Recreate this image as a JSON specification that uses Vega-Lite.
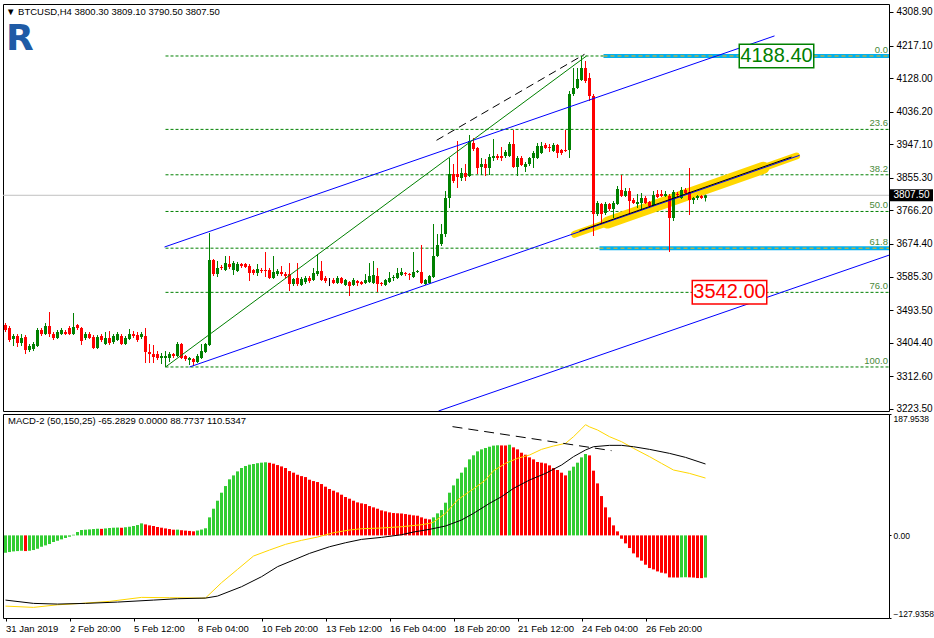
{
"$schema":"https://vega.github.io/schema/vega-lite/v6.json",
"background":"white",
"padding":{"left":2,"top":3,"right":0,"bottom":0},
"spacing":3,
"bounds":"flush",
"config":{"view":{"stroke":"#000000","strokeWidth":1},"font":"Liberation Sans"},
"datasets":{
"c":[
{"t":"2019-01-31T04:00Z","o":3452.7,"h":3458.1,"l":3433.5,"c":3439.0,"m":-26.9},
{"t":"2019-01-31T08:00Z","o":3444.5,"h":3449.9,"l":3406.2,"c":3411.6,"m":-25.8},
{"t":"2019-01-31T12:00Z","o":3414.4,"h":3428.0,"l":3395.2,"c":3422.6,"m":-24.8},
{"t":"2019-01-31T16:00Z","o":3422.6,"h":3428.0,"l":3392.5,"c":3403.4,"m":-24.3},
{"t":"2019-01-31T20:00Z","o":3403.4,"h":3428.0,"l":3395.2,"c":3417.1,"m":-23.8},
{"t":"2019-02-01T00:00Z","o":3419.8,"h":3425.3,"l":3373.3,"c":3384.3,"m":-24.3},
{"t":"2019-02-01T04:00Z","o":3384.3,"h":3400.7,"l":3378.8,"c":3395.2,"m":-23.8},
{"t":"2019-02-01T08:00Z","o":3387.0,"h":3406.2,"l":3381.5,"c":3400.7,"m":-22.7},
{"t":"2019-02-01T12:00Z","o":3395.2,"h":3444.5,"l":3392.5,"c":3439.0,"m":-20.7},
{"t":"2019-02-01T16:00Z","o":3439.0,"h":3444.5,"l":3422.6,"c":3428.0,"m":-17.6},
{"t":"2019-02-01T20:00Z","o":3428.0,"h":3458.1,"l":3425.3,"c":3449.9,"m":-15.5},
{"t":"2019-02-02T00:00Z","o":3449.9,"h":3488.2,"l":3419.8,"c":3428.0,"m":-13.4},
{"t":"2019-02-02T04:00Z","o":3428.0,"h":3433.5,"l":3411.6,"c":3417.1,"m":-10.3},
{"t":"2019-02-02T08:00Z","o":3417.1,"h":3439.0,"l":3414.4,"c":3433.5,"m":-8.3},
{"t":"2019-02-02T12:00Z","o":3428.0,"h":3444.5,"l":3425.3,"c":3439.0,"m":-6.2},
{"t":"2019-02-02T16:00Z","o":3433.5,"h":3439.0,"l":3425.3,"c":3428.0,"m":-4.1},
{"t":"2019-02-02T20:00Z","o":3444.5,"h":3449.9,"l":3425.3,"c":3428.0,"m":-2.1},
{"t":"2019-02-03T00:00Z","o":3428.0,"h":3485.5,"l":3425.3,"c":3447.2,"m":1.0},
{"t":"2019-02-03T04:00Z","o":3452.7,"h":3455.4,"l":3439.0,"c":3444.5,"m":5.2},
{"t":"2019-02-03T08:00Z","o":3444.5,"h":3447.2,"l":3398.0,"c":3408.9,"m":8.3},
{"t":"2019-02-03T12:00Z","o":3417.1,"h":3433.5,"l":3411.6,"c":3428.0,"m":8.8},
{"t":"2019-02-03T16:00Z","o":3428.0,"h":3433.5,"l":3414.4,"c":3417.1,"m":9.3},
{"t":"2019-02-03T20:00Z","o":3419.8,"h":3425.3,"l":3387.0,"c":3389.8,"m":9.8},
{"t":"2019-02-04T00:00Z","o":3389.8,"h":3425.3,"l":3387.0,"c":3419.8,"m":10.3},
{"t":"2019-02-04T04:00Z","o":3422.6,"h":3428.0,"l":3406.2,"c":3411.6,"m":10.1},
{"t":"2019-02-04T08:00Z","o":3400.7,"h":3433.5,"l":3398.0,"c":3417.1,"m":10.8},
{"t":"2019-02-04T12:00Z","o":3417.1,"h":3436.2,"l":3398.0,"c":3403.4,"m":11.4},
{"t":"2019-02-04T16:00Z","o":3406.2,"h":3428.0,"l":3400.7,"c":3422.6,"m":11.9},
{"t":"2019-02-04T20:00Z","o":3411.6,"h":3433.5,"l":3408.9,"c":3428.0,"m":12.1},
{"t":"2019-02-05T00:00Z","o":3422.6,"h":3428.0,"l":3398.0,"c":3400.7,"m":11.8},
{"t":"2019-02-05T04:00Z","o":3400.7,"h":3422.6,"l":3398.0,"c":3417.1,"m":12.6},
{"t":"2019-02-05T08:00Z","o":3414.4,"h":3441.7,"l":3411.6,"c":3428.0,"m":13.4},
{"t":"2019-02-05T12:00Z","o":3428.0,"h":3436.2,"l":3417.1,"c":3422.6,"m":14.5},
{"t":"2019-02-05T16:00Z","o":3425.3,"h":3433.5,"l":3406.2,"c":3411.6,"m":16.0},
{"t":"2019-02-05T20:00Z","o":3419.8,"h":3433.5,"l":3414.4,"c":3428.0,"m":18.6},
{"t":"2019-02-06T00:00Z","o":3422.6,"h":3444.5,"l":3348.7,"c":3378.8,"m":17.0},
{"t":"2019-02-06T04:00Z","o":3378.8,"h":3400.7,"l":3348.7,"c":3373.3,"m":15.5},
{"t":"2019-02-06T08:00Z","o":3373.3,"h":3398.0,"l":3348.7,"c":3365.1,"m":14.5},
{"t":"2019-02-06T12:00Z","o":3373.3,"h":3381.5,"l":3356.9,"c":3362.4,"m":13.0},
{"t":"2019-02-06T16:00Z","o":3362.4,"h":3376.1,"l":3346.0,"c":3367.9,"m":11.9},
{"t":"2019-02-06T20:00Z","o":3362.4,"h":3381.5,"l":3337.9,"c":3367.9,"m":10.8},
{"t":"2019-02-07T00:00Z","o":3362.4,"h":3378.8,"l":3351.5,"c":3373.3,"m":9.8},
{"t":"2019-02-07T04:00Z","o":3373.3,"h":3376.1,"l":3362.4,"c":3367.9,"m":8.8},
{"t":"2019-02-07T08:00Z","o":3367.9,"h":3406.2,"l":3365.1,"c":3400.7,"m":8.9},
{"t":"2019-02-07T12:00Z","o":3400.7,"h":3403.4,"l":3359.7,"c":3362.4,"m":8.0},
{"t":"2019-02-07T16:00Z","o":3367.9,"h":3370.6,"l":3354.2,"c":3359.7,"m":7.4},
{"t":"2019-02-07T20:00Z","o":3356.9,"h":3365.1,"l":3343.3,"c":3362.4,"m":6.9},
{"t":"2019-02-08T00:00Z","o":3359.7,"h":3362.4,"l":3340.5,"c":3351.5,"m":6.3},
{"t":"2019-02-08T04:00Z","o":3351.5,"h":3373.3,"l":3348.7,"c":3367.9,"m":7.5},
{"t":"2019-02-08T08:00Z","o":3362.4,"h":3400.7,"l":3359.7,"c":3381.5,"m":9.0},
{"t":"2019-02-08T12:00Z","o":3378.8,"h":3403.4,"l":3376.1,"c":3400.7,"m":11.0},
{"t":"2019-02-08T16:00Z","o":3398.0,"h":3704.3,"l":3395.2,"c":3630.4,"m":27.9},
{"t":"2019-02-08T20:00Z","o":3630.4,"h":3633.2,"l":3586.7,"c":3592.1,"m":41.3},
{"t":"2019-02-09T00:00Z","o":3592.1,"h":3627.7,"l":3583.9,"c":3608.6,"m":53.7},
{"t":"2019-02-09T04:00Z","o":3611.3,"h":3616.8,"l":3603.1,"c":3608.6,"m":66.1},
{"t":"2019-02-09T08:00Z","o":3603.1,"h":3641.4,"l":3600.3,"c":3622.2,"m":76.4},
{"t":"2019-02-09T12:00Z","o":3619.5,"h":3641.4,"l":3605.8,"c":3611.3,"m":86.8},
{"t":"2019-02-09T16:00Z","o":3603.1,"h":3627.7,"l":3589.4,"c":3622.2,"m":92.9},
{"t":"2019-02-09T20:00Z","o":3600.3,"h":3625.0,"l":3597.6,"c":3619.5,"m":99.1},
{"t":"2019-02-10T00:00Z","o":3619.5,"h":3622.2,"l":3608.6,"c":3614.0,"m":104.3},
{"t":"2019-02-10T04:00Z","o":3619.5,"h":3622.2,"l":3608.6,"c":3611.3,"m":107.4},
{"t":"2019-02-10T08:00Z","o":3614.0,"h":3619.5,"l":3573.0,"c":3594.9,"m":109.5},
{"t":"2019-02-10T12:00Z","o":3603.1,"h":3605.8,"l":3589.4,"c":3594.9,"m":110.5},
{"t":"2019-02-10T16:00Z","o":3594.9,"h":3619.5,"l":3586.7,"c":3605.8,"m":111.8},
{"t":"2019-02-10T20:00Z","o":3603.1,"h":3608.6,"l":3594.9,"c":3600.3,"m":112.6},
{"t":"2019-02-11T00:00Z","o":3603.1,"h":3652.3,"l":3583.9,"c":3600.3,"m":113.2},
{"t":"2019-02-11T04:00Z","o":3603.1,"h":3608.6,"l":3578.5,"c":3581.2,"m":112.4},
{"t":"2019-02-11T08:00Z","o":3581.2,"h":3641.4,"l":3578.5,"c":3597.6,"m":111.0},
{"t":"2019-02-11T12:00Z","o":3592.1,"h":3605.8,"l":3586.7,"c":3600.3,"m":108.9},
{"t":"2019-02-11T16:00Z","o":3597.6,"h":3614.0,"l":3586.7,"c":3592.1,"m":106.8},
{"t":"2019-02-11T20:00Z","o":3592.1,"h":3597.6,"l":3581.2,"c":3586.7,"m":104.3},
{"t":"2019-02-12T00:00Z","o":3592.1,"h":3622.2,"l":3545.6,"c":3564.8,"m":99.6},
{"t":"2019-02-12T04:00Z","o":3564.8,"h":3581.2,"l":3559.3,"c":3578.5,"m":97.1},
{"t":"2019-02-12T08:00Z","o":3581.2,"h":3622.2,"l":3559.3,"c":3564.8,"m":93.9},
{"t":"2019-02-12T12:00Z","o":3562.1,"h":3583.9,"l":3559.3,"c":3578.5,"m":91.8},
{"t":"2019-02-12T16:00Z","o":3570.3,"h":3586.7,"l":3564.8,"c":3581.2,"m":90.3},
{"t":"2019-02-12T20:00Z","o":3581.2,"h":3586.7,"l":3567.5,"c":3573.0,"m":86.2},
{"t":"2019-02-13T00:00Z","o":3575.7,"h":3608.6,"l":3573.0,"c":3594.9,"m":84.1},
{"t":"2019-02-13T04:00Z","o":3592.1,"h":3646.8,"l":3586.7,"c":3600.3,"m":82.6},
{"t":"2019-02-13T08:00Z","o":3600.3,"h":3627.7,"l":3573.0,"c":3575.7,"m":79.5},
{"t":"2019-02-13T12:00Z","o":3581.2,"h":3586.7,"l":3567.5,"c":3573.0,"m":75.4},
{"t":"2019-02-13T16:00Z","o":3574.4,"h":3581.2,"l":3559.3,"c":3574.4,"m":71.8},
{"t":"2019-02-13T20:00Z","o":3575.7,"h":3581.2,"l":3564.8,"c":3567.5,"m":69.2},
{"t":"2019-02-14T00:00Z","o":3567.5,"h":3586.7,"l":3564.8,"c":3581.2,"m":66.6},
{"t":"2019-02-14T04:00Z","o":3581.2,"h":3583.9,"l":3564.8,"c":3567.5,"m":63.0},
{"t":"2019-02-14T08:00Z","o":3562.1,"h":3578.5,"l":3559.3,"c":3575.7,"m":59.4},
{"t":"2019-02-14T12:00Z","o":3570.3,"h":3573.0,"l":3532.0,"c":3559.3,"m":56.8},
{"t":"2019-02-14T16:00Z","o":3562.1,"h":3581.2,"l":3559.3,"c":3575.7,"m":53.7},
{"t":"2019-02-14T20:00Z","o":3573.0,"h":3575.7,"l":3559.3,"c":3567.5,"m":51.1},
{"t":"2019-02-15T00:00Z","o":3570.3,"h":3573.0,"l":3562.1,"c":3564.8,"m":49.6},
{"t":"2019-02-15T04:00Z","o":3567.5,"h":3592.1,"l":3564.8,"c":3575.7,"m":48.5},
{"t":"2019-02-15T08:00Z","o":3570.3,"h":3622.2,"l":3567.5,"c":3586.7,"m":45.4},
{"t":"2019-02-15T12:00Z","o":3567.5,"h":3627.7,"l":3564.8,"c":3589.4,"m":43.4},
{"t":"2019-02-15T16:00Z","o":3586.7,"h":3608.6,"l":3542.9,"c":3564.8,"m":41.3},
{"t":"2019-02-15T20:00Z","o":3567.5,"h":3570.3,"l":3559.3,"c":3564.8,"m":38.7},
{"t":"2019-02-16T00:00Z","o":3562.1,"h":3578.5,"l":3559.3,"c":3575.7,"m":37.2},
{"t":"2019-02-16T04:00Z","o":3570.3,"h":3597.6,"l":3567.5,"c":3581.2,"m":35.6},
{"t":"2019-02-16T08:00Z","o":3581.2,"h":3589.4,"l":3573.0,"c":3583.9,"m":34.6},
{"t":"2019-02-16T12:00Z","o":3581.2,"h":3608.6,"l":3578.5,"c":3594.9,"m":34.2},
{"t":"2019-02-16T16:00Z","o":3589.4,"h":3608.6,"l":3586.7,"c":3597.6,"m":33.9},
{"t":"2019-02-16T20:00Z","o":3594.9,"h":3597.6,"l":3586.7,"c":3592.1,"m":33.0},
{"t":"2019-02-17T00:00Z","o":3592.1,"h":3594.9,"l":3575.7,"c":3589.4,"m":32.0},
{"t":"2019-02-17T04:00Z","o":3583.9,"h":3652.3,"l":3581.2,"c":3597.6,"m":31.0},
{"t":"2019-02-17T08:00Z","o":3597.6,"h":3603.1,"l":3594.9,"c":3600.3,"m":30.5},
{"t":"2019-02-17T12:00Z","o":3597.6,"h":3671.5,"l":3564.8,"c":3567.5,"m":27.9},
{"t":"2019-02-17T16:00Z","o":3564.8,"h":3578.5,"l":3562.1,"c":3575.7,"m":25.8},
{"t":"2019-02-17T20:00Z","o":3567.5,"h":3589.4,"l":3564.8,"c":3586.7,"m":24.8},
{"t":"2019-02-18T00:00Z","o":3583.9,"h":3728.9,"l":3581.2,"c":3641.4,"m":27.9},
{"t":"2019-02-18T04:00Z","o":3641.4,"h":3701.5,"l":3638.6,"c":3671.5,"m":34.1},
{"t":"2019-02-18T08:00Z","o":3674.2,"h":3728.9,"l":3668.7,"c":3701.5,"m":39.2},
{"t":"2019-02-18T12:00Z","o":3701.5,"h":3819.1,"l":3693.3,"c":3800.0,"m":50.6},
{"t":"2019-02-18T16:00Z","o":3800.0,"h":3909.4,"l":3772.7,"c":3865.6,"m":66.1},
{"t":"2019-02-18T20:00Z","o":3865.6,"h":3893.0,"l":3841.0,"c":3846.5,"m":77.4},
{"t":"2019-02-19T00:00Z","o":3865.6,"h":3955.9,"l":3827.4,"c":3857.4,"m":87.8},
{"t":"2019-02-19T04:00Z","o":3854.7,"h":3882.1,"l":3846.5,"c":3868.4,"m":97.1},
{"t":"2019-02-19T08:00Z","o":3868.4,"h":3893.0,"l":3846.5,"c":3857.4,"m":105.3},
{"t":"2019-02-19T12:00Z","o":3860.2,"h":3972.3,"l":3857.4,"c":3955.9,"m":117.7},
{"t":"2019-02-19T16:00Z","o":3950.4,"h":3964.1,"l":3928.5,"c":3934.0,"m":124.0},
{"t":"2019-02-19T20:00Z","o":3936.8,"h":3939.5,"l":3865.6,"c":3882.1,"m":130.1},
{"t":"2019-02-20T00:00Z","o":3884.8,"h":3909.4,"l":3862.9,"c":3893.0,"m":133.2},
{"t":"2019-02-20T04:00Z","o":3893.0,"h":3906.7,"l":3860.2,"c":3882.1,"m":135.3},
{"t":"2019-02-20T08:00Z","o":3882.1,"h":3920.3,"l":3862.9,"c":3912.1,"m":137.3},
{"t":"2019-02-20T12:00Z","o":3909.4,"h":3961.4,"l":3901.2,"c":3914.9,"m":139.0},
{"t":"2019-02-20T16:00Z","o":3914.9,"h":3920.3,"l":3903.9,"c":3909.4,"m":139.5},
{"t":"2019-02-20T20:00Z","o":3914.9,"h":3939.5,"l":3901.2,"c":3909.4,"m":139.3},
{"t":"2019-02-21T00:00Z","o":3914.9,"h":3931.3,"l":3909.4,"c":3925.8,"m":139.2},
{"t":"2019-02-21T04:00Z","o":3914.9,"h":3953.2,"l":3912.1,"c":3947.7,"m":140.4},
{"t":"2019-02-21T08:00Z","o":3947.7,"h":3986.0,"l":3882.1,"c":3884.8,"m":136.3},
{"t":"2019-02-21T12:00Z","o":3884.8,"h":3914.9,"l":3860.2,"c":3909.4,"m":133.2},
{"t":"2019-02-21T16:00Z","o":3909.4,"h":3914.9,"l":3887.5,"c":3890.3,"m":128.0},
{"t":"2019-02-21T20:00Z","o":3884.8,"h":3898.5,"l":3871.1,"c":3893.0,"m":124.9},
{"t":"2019-02-22T00:00Z","o":3893.0,"h":3912.1,"l":3887.5,"c":3909.4,"m":120.8},
{"t":"2019-02-22T04:00Z","o":3909.4,"h":3928.5,"l":3882.1,"c":3923.1,"m":117.7},
{"t":"2019-02-22T08:00Z","o":3909.4,"h":3950.4,"l":3906.7,"c":3942.2,"m":113.6},
{"t":"2019-02-22T12:00Z","o":3923.1,"h":3953.2,"l":3920.3,"c":3942.2,"m":112.6},
{"t":"2019-02-22T16:00Z","o":3945.0,"h":3950.4,"l":3934.0,"c":3936.8,"m":111.5},
{"t":"2019-02-22T20:00Z","o":3939.5,"h":3947.7,"l":3925.8,"c":3936.8,"m":108.4},
{"t":"2019-02-23T00:00Z","o":3928.5,"h":3950.4,"l":3925.8,"c":3945.0,"m":104.3},
{"t":"2019-02-23T04:00Z","o":3945.0,"h":3947.7,"l":3909.4,"c":3923.1,"m":101.2},
{"t":"2019-02-23T08:00Z","o":3931.3,"h":3934.0,"l":3917.6,"c":3923.1,"m":97.1},
{"t":"2019-02-23T12:00Z","o":3931.3,"h":3986.0,"l":3925.8,"c":3928.5,"m":92.9},
{"t":"2019-02-23T16:00Z","o":3931.3,"h":4092.6,"l":3909.4,"c":4084.4,"m":100.2},
{"t":"2019-02-23T20:00Z","o":4084.4,"h":4155.6,"l":4079.0,"c":4100.9,"m":106.4},
{"t":"2019-02-24T00:00Z","o":4100.9,"h":4155.6,"l":4098.1,"c":4125.5,"m":112.6},
{"t":"2019-02-24T04:00Z","o":4122.7,"h":4188.4,"l":4120.0,"c":4155.6,"m":120.8},
{"t":"2019-02-24T08:00Z","o":4155.6,"h":4174.7,"l":4114.5,"c":4120.0,"m":126.0},
{"t":"2019-02-24T12:00Z","o":4128.2,"h":4141.9,"l":4065.3,"c":4079.0,"m":123.9},
{"t":"2019-02-24T16:00Z","o":4079.0,"h":4084.4,"l":3696.1,"c":3756.2,"m":100.2},
{"t":"2019-02-24T20:00Z","o":3756.2,"h":3791.8,"l":3750.8,"c":3786.3,"m":80.5},
{"t":"2019-02-25T00:00Z","o":3783.6,"h":3786.3,"l":3728.9,"c":3756.2,"m":60.9},
{"t":"2019-02-25T04:00Z","o":3759.0,"h":3789.1,"l":3753.5,"c":3783.6,"m":43.4},
{"t":"2019-02-25T08:00Z","o":3783.6,"h":3786.3,"l":3764.4,"c":3769.9,"m":27.9},
{"t":"2019-02-25T12:00Z","o":3769.9,"h":3791.8,"l":3745.3,"c":3786.3,"m":15.5},
{"t":"2019-02-25T16:00Z","o":3783.6,"h":3832.8,"l":3780.9,"c":3824.6,"m":6.2},
{"t":"2019-02-25T20:00Z","o":3821.9,"h":3862.9,"l":3802.7,"c":3805.5,"m":-5.2},
{"t":"2019-02-26T00:00Z","o":3805.5,"h":3827.4,"l":3802.7,"c":3819.1,"m":-12.4},
{"t":"2019-02-26T04:00Z","o":3819.1,"h":3827.4,"l":3759.0,"c":3791.8,"m":-19.6},
{"t":"2019-02-26T08:00Z","o":3794.5,"h":3800.0,"l":3783.6,"c":3786.3,"m":-27.9},
{"t":"2019-02-26T12:00Z","o":3783.6,"h":3810.9,"l":3772.7,"c":3789.1,"m":-34.1},
{"t":"2019-02-26T16:00Z","o":3786.3,"h":3813.7,"l":3767.2,"c":3800.0,"m":-39.2},
{"t":"2019-02-26T20:00Z","o":3800.0,"h":3805.5,"l":3783.6,"c":3786.3,"m":-45.4},
{"t":"2019-02-27T00:00Z","o":3789.1,"h":3791.8,"l":3772.7,"c":3778.1,"m":-50.6},
{"t":"2019-02-27T04:00Z","o":3780.9,"h":3819.1,"l":3778.1,"c":3808.2,"m":-52.7},
{"t":"2019-02-27T08:00Z","o":3810.9,"h":3821.9,"l":3800.0,"c":3802.7,"m":-55.8},
{"t":"2019-02-27T12:00Z","o":3810.9,"h":3821.9,"l":3802.7,"c":3805.5,"m":-57.8},
{"t":"2019-02-27T16:00Z","o":3805.5,"h":3819.1,"l":3802.7,"c":3810.9,"m":-58.9},
{"t":"2019-02-27T20:00Z","o":3805.5,"h":3810.9,"l":3652.3,"c":3745.3,"m":-65.1},
{"t":"2019-02-28T00:00Z","o":3745.3,"h":3821.9,"l":3737.1,"c":3816.4,"m":-65.2},
{"t":"2019-02-28T04:00Z","o":3810.9,"h":3816.4,"l":3800.0,"c":3808.2,"m":-65.3},
{"t":"2019-02-28T08:00Z","o":3800.0,"h":3830.1,"l":3797.3,"c":3821.9,"m":-65.0},
{"t":"2019-02-28T12:00Z","o":3821.9,"h":3827.4,"l":3810.9,"c":3813.7,"m":-64.8},
{"t":"2019-02-28T16:00Z","o":3816.4,"h":3882.1,"l":3753.5,"c":3794.5,"m":-65.0},
{"t":"2019-02-28T20:00Z","o":3794.5,"h":3802.7,"l":3783.6,"c":3800.0,"m":-65.3},
{"t":"2019-03-01T00:00Z","o":3800.0,"h":3808.2,"l":3794.5,"c":3805.5,"m":-66.1},
{"t":"2019-03-01T04:00Z","o":3805.5,"h":3808.2,"l":3797.3,"c":3800.0,"m":-66.2},
{"t":"2019-03-01T08:00Z","o":3800.3,"h":3809.1,"l":3790.5,"c":3807.5,"m":-65.2829}
],
"yel":[
{"t":"2019-01-31T04:00Z","v":-109.5},{"t":"2019-02-01T08:00Z","v":-111.5},{"t":"2019-02-02T08:00Z","v":-107.5},{"t":"2019-02-03T08:00Z","v":-105.3},{"t":"2019-02-04T12:00Z","v":-102.2},{"t":"2019-02-05T20:00Z","v":-96.0},{"t":"2019-02-07T00:00Z","v":-96.5},{"t":"2019-02-08T08:00Z","v":-97.1},{"t":"2019-02-08T12:00Z","v":-97.0},{"t":"2019-02-09T04:00Z","v":-73.3},{"t":"2019-02-09T20:00Z","v":-52.7},{"t":"2019-02-10T12:00Z","v":-32.0},{"t":"2019-02-11T04:00Z","v":-22.7},{"t":"2019-02-11T20:00Z","v":-13.9},{"t":"2019-02-12T12:00Z","v":-7.7},{"t":"2019-02-13T04:00Z","v":-2.6},{"t":"2019-02-13T20:00Z","v":4.1},{"t":"2019-02-14T12:00Z","v":8.3},{"t":"2019-02-15T00:00Z","v":10.3},{"t":"2019-02-15T20:00Z","v":11.4},{"t":"2019-02-16T16:00Z","v":13.4},{"t":"2019-02-17T12:00Z","v":16.5},{"t":"2019-02-17T20:00Z","v":18.6},{"t":"2019-02-18T00:00Z","v":20.6},{"t":"2019-02-18T12:00Z","v":34.1},{"t":"2019-02-19T00:00Z","v":54.7},{"t":"2019-02-19T12:00Z","v":68.0},{"t":"2019-02-19T16:00Z","v":72.0},{"t":"2019-02-20T04:00Z","v":85.7},{"t":"2019-02-20T12:00Z","v":100.0},{"t":"2019-02-21T00:00Z","v":111.5},{"t":"2019-02-21T12:00Z","v":119.3},{"t":"2019-02-22T00:00Z","v":124.4},{"t":"2019-02-22T12:00Z","v":133.2},{"t":"2019-02-23T00:00Z","v":138.4},{"t":"2019-02-23T12:00Z","v":142.5},{"t":"2019-02-23T20:00Z","v":152.8},{"t":"2019-02-24T04:00Z","v":165.0},{"t":"2019-02-24T08:00Z","v":171.4},{"t":"2019-02-24T12:00Z","v":168.0},{"t":"2019-02-24T20:00Z","v":163.2},{"t":"2019-02-25T08:00Z","v":152.8},{"t":"2019-02-25T20:00Z","v":145.1},{"t":"2019-02-26T08:00Z","v":134.8},{"t":"2019-02-27T00:00Z","v":121.9},{"t":"2019-02-27T12:00Z","v":111.5},{"t":"2019-02-28T00:00Z","v":101.2},{"t":"2019-02-28T16:00Z","v":96.0},{"t":"2019-03-01T08:00Z","v":88.7737}
],
"blk":[
{"t":"2019-01-31T04:00Z","v":-100.2},{"t":"2019-02-01T08:00Z","v":-105.3},{"t":"2019-02-02T08:00Z","v":-106.4},{"t":"2019-02-03T12:00Z","v":-105.3},{"t":"2019-02-04T20:00Z","v":-103.3},{"t":"2019-02-06T08:00Z","v":-100.2},{"t":"2019-02-07T08:00Z","v":-98.1},{"t":"2019-02-08T12:00Z","v":-97.1},{"t":"2019-02-09T00:00Z","v":-94.0},{"t":"2019-02-10T00:00Z","v":-79.5},{"t":"2019-02-10T20:00Z","v":-64.0},{"t":"2019-02-11T12:00Z","v":-48.5},{"t":"2019-02-12T04:00Z","v":-38.2},{"t":"2019-02-12T20:00Z","v":-27.9},{"t":"2019-02-13T16:00Z","v":-17.6},{"t":"2019-02-14T08:00Z","v":-11.4},{"t":"2019-02-15T00:00Z","v":-6.2},{"t":"2019-02-15T20:00Z","v":-3.1},{"t":"2019-02-16T16:00Z","v":1.0},{"t":"2019-02-17T04:00Z","v":5.2},{"t":"2019-02-17T20:00Z","v":9.3},{"t":"2019-02-18T12:00Z","v":14.5},{"t":"2019-02-19T04:00Z","v":23.8},{"t":"2019-02-19T16:00Z","v":34.1},{"t":"2019-02-20T08:00Z","v":49.6},{"t":"2019-02-20T20:00Z","v":59.9},{"t":"2019-02-21T08:00Z","v":72.8},{"t":"2019-02-22T00:00Z","v":85.7},{"t":"2019-02-22T16:00Z","v":96.0},{"t":"2019-02-23T08:00Z","v":108.9},{"t":"2019-02-23T20:00Z","v":121.9},{"t":"2019-02-24T08:00Z","v":132.2},{"t":"2019-02-24T16:00Z","v":137.3},{"t":"2019-02-25T08:00Z","v":139.4},{"t":"2019-02-25T20:00Z","v":139.4},{"t":"2019-02-26T08:00Z","v":137.3},{"t":"2019-02-27T00:00Z","v":133.2},{"t":"2019-02-27T20:00Z","v":127.0},{"t":"2019-02-28T12:00Z","v":120.8},{"t":"2019-03-01T08:00Z","v":110.5347}
],
"fib":[
{"lv":"0.0","v":4188.4,"t0":"2019-02-06T20:00Z","t1":"2019-03-08T23:30Z"},
{"lv":"23.6","v":3987.7,"t0":"2019-02-06T20:00Z","t1":"2019-03-08T23:30Z"},
{"lv":"38.2","v":3863.5,"t0":"2019-02-06T20:00Z","t1":"2019-03-08T23:30Z"},
{"lv":"50.0","v":3763.2,"t0":"2019-02-06T20:00Z","t1":"2019-03-08T23:30Z"},
{"lv":"61.8","v":3662.8,"t0":"2019-02-06T20:00Z","t1":"2019-03-08T23:30Z"},
{"lv":"76.0","v":3542.0,"t0":"2019-02-06T20:00Z","t1":"2019-03-08T23:30Z"},
{"lv":"100.0","v":3337.9,"t0":"2019-02-06T20:00Z","t1":"2019-03-08T23:30Z"}
],
"cy":[
{"v":4188.4,"t0":"2019-02-25T02:00Z","t1":"2019-03-08T23:30Z"},
{"v":3662.8,"t0":"2019-02-24T22:00Z","t1":"2019-03-08T23:30Z"}
],
"tl":[
{"id":"U","t":"2019-02-06T19:00Z","v":3666.0},{"id":"U","t":"2019-03-04T05:00Z","v":4243.3},
{"id":"M","t":"2019-02-07T20:00Z","v":3337.8},{"id":"M","t":"2019-03-05T06:00Z","v":3916.7},
{"id":"L","t":"2019-02-18T05:00Z","v":3217.5},{"id":"L","t":"2019-03-08T23:30Z","v":3643.7},
{"id":"G","t":"2019-02-06T20:00Z","v":3337.9},{"id":"G","t":"2019-02-24T09:00Z","v":4188.4},
{"id":"K","t":"2019-02-18T03:00Z","v":3957.8},{"id":"K","t":"2019-02-24T07:00Z","v":4193.0},
{"id":"E","t":"2019-02-23T21:00Z","v":3700.7},{"id":"E","t":"2019-03-05T03:00Z","v":3914.9},
{"id":"E2","t":"2019-02-25T06:00Z","v":3732.8},{"id":"E2","t":"2019-03-03T18:00Z","v":3882.8},
{"id":"C","t":"2019-02-24T02:00Z","v":3709.8},{"id":"C","t":"2019-03-04T22:00Z","v":3912.1}
],
"lab":[
{"txt":"4188.40","k":"g","t":"2019-03-04T07:00Z","v":4188.4},
{"txt":"3542.00","k":"r","t":"2019-03-02T08:00Z","v":3542.0}
],
"px":[{"txt":"3807.50","t":"2019-03-09T22:00Z","v":3807.5}],
"mk":[{"t":"2019-02-18T19:00Z","v":168.4},{"t":"2019-02-25T10:00Z","v":131.2}]
},
"vconcat":[
{
"width":886,"height":407,
"title":{"text":"▼ BTCUSD,H4  3800.30 3809.10 3790.50 3807.50","subtitle":"\u2009R","anchor":"start","frame":"group","orient":"top","offset":-53,"dx":3,"font":"Liberation Sans","fontSize":9.5,"fontWeight":"normal","color":"#000000","subtitleFont":"DejaVu Sans","subtitleFontSize":36,"subtitleFontWeight":"bold","subtitleColor":"#1f5ba6","subtitlePadding":6},
"layer":[
{"data":{"values":[{"v":3807.5}]},"mark":{"type":"rule","color":"#c0c0c0","strokeWidth":1},
 "encoding":{"y":{"field":"v","type":"quantitative","title":null,"scale":{"domain":[3217.5,4330.6],"nice":false,"zero":false,"padding":0},
   "axis":{"orient":"right","values":[4308.9,4217.1,4128.0,4036.2,3947.1,3855.3,3766.2,3674.4,3585.3,3493.5,3404.4,3312.6,3223.5],"tickCount":30,"format":".2f","domain":false,"grid":false,"ticks":true,"tickSize":4,"tickColor":"#000000","labelColor":"#000000","labelFont":"Liberation Sans","labelFontSize":10,"labelPadding":3,"title":null,"labelBound":false,"labelFlush":false,"labelOverlap":false}}}},
{"data":{"name":"fib"},"mark":{"type":"rule","color":"#008000","strokeWidth":1,"strokeDash":[3,2]},
 "encoding":{"x":{"field":"t0","type":"temporal","title":null,"axis":null,"scale":{"nice":false,"padding":0,"domain":[{"year":2019,"month":1,"date":31,"hours":1,"minutes":30,"utc":true},{"year":2019,"month":3,"date":8,"hours":23,"minutes":30,"utc":true}]}},"x2":{"field":"t1"},"y":{"field":"v","type":"quantitative","title":null}}},
{"data":{"name":"fib"},"mark":{"type":"text","align":"right","baseline":"bottom","dx":-1,"dy":-1,"fontSize":9.5,"font":"Liberation Sans","color":"#4a8a3a"},
 "encoding":{"x":{"field":"t1","type":"temporal","title":null,"axis":null},"y":{"field":"v","type":"quantitative","title":null},"text":{"field":"lv"}}},
{"data":{"name":"cy"},"mark":{"type":"rule","color":"#00b0f0","strokeWidth":4},
 "encoding":{"x":{"field":"t0","type":"temporal","title":null,"axis":null},"x2":{"field":"t1"},"y":{"field":"v","type":"quantitative","title":null}}},
{"data":{"name":"cy"},"mark":{"type":"rule","color":"#ffb400","strokeWidth":1,"strokeDash":[4,3]},
 "encoding":{"x":{"field":"t0","type":"temporal","title":null,"axis":null},"x2":{"field":"t1"},"y":{"field":"v","type":"quantitative","title":null}}},
{"data":{"name":"tl"},"transform":[{"filter":"datum.id == 'E'"}],"mark":{"type":"line","color":"#ffd700","strokeWidth":7,"strokeCap":"round"},
 "encoding":{"x":{"field":"t","type":"temporal","title":null,"axis":null},"y":{"field":"v","type":"quantitative","title":null}}},
{"data":{"name":"tl"},"transform":[{"filter":"datum.id == 'E2'"}],"mark":{"type":"line","color":"#ffd700","strokeWidth":12,"strokeCap":"round"},
 "encoding":{"x":{"field":"t","type":"temporal","title":null,"axis":null},"y":{"field":"v","type":"quantitative","title":null}}},
{"data":{"name":"c"},"mark":{"type":"rule","strokeWidth":1},
 "encoding":{"x":{"field":"t","type":"temporal","title":null,"axis":null},"y":{"field":"l","type":"quantitative","title":null},"y2":{"field":"h"},
   "color":{"condition":[{"test":"datum.c > datum.o","value":"#008000"},{"test":"datum.c < datum.o","value":"#ff0000"}],"value":"#000000"}}},
{"data":{"name":"c"},"mark":{"type":"bar","width":3},
 "encoding":{"x":{"field":"t","type":"temporal","title":null,"axis":null},"y":{"field":"o","type":"quantitative","title":null},"y2":{"field":"c"},
   "color":{"condition":[{"test":"datum.c > datum.o","value":"#008000"},{"test":"datum.c < datum.o","value":"#ff0000"}],"value":"#000000"}}},
{"data":{"name":"tl"},"transform":[{"filter":"indexof(['U','M','L'], datum.id) >= 0"}],"mark":{"type":"line","color":"#0000ff","strokeWidth":1,"clip":true},
 "encoding":{"x":{"field":"t","type":"temporal","title":null,"axis":null},"y":{"field":"v","type":"quantitative","title":null},"detail":{"field":"id"}}},
{"data":{"name":"tl"},"transform":[{"filter":"datum.id == 'G'"}],"mark":{"type":"line","color":"#008000","strokeWidth":1},
 "encoding":{"x":{"field":"t","type":"temporal","title":null,"axis":null},"y":{"field":"v","type":"quantitative","title":null}}},
{"data":{"name":"tl"},"transform":[{"filter":"datum.id == 'K'"}],"mark":{"type":"line","color":"#000000","strokeWidth":1,"strokeDash":[8,5]},
 "encoding":{"x":{"field":"t","type":"temporal","title":null,"axis":null},"y":{"field":"v","type":"quantitative","title":null}}},
{"data":{"name":"tl"},"transform":[{"filter":"datum.id == 'C'"}],"mark":{"type":"line","color":"#000000","strokeWidth":1},
 "encoding":{"x":{"field":"t","type":"temporal","title":null,"axis":null},"y":{"field":"v","type":"quantitative","title":null}}},
{"data":{"name":"lab"},"mark":{"type":"point","shape":"M-1,-0.315H1V0.315H-1Z","size":5550,"filled":false,"fill":"#ffffff","fillOpacity":1,"opacity":1,"strokeWidth":1.5},
 "encoding":{"x":{"field":"t","type":"temporal","title":null,"axis":null},"y":{"field":"v","type":"quantitative","title":null},
   "color":{"condition":{"test":"datum.k == 'g'","value":"#008000"},"value":"#ff0000"}}},
{"data":{"name":"lab"},"mark":{"type":"text","align":"center","baseline":"middle","fontSize":20,"font":"Liberation Sans"},
 "encoding":{"x":{"field":"t","type":"temporal","title":null,"axis":null},"y":{"field":"v","type":"quantitative","title":null},"text":{"field":"txt"},
   "color":{"condition":{"test":"datum.k == 'g'","value":"#008000"},"value":"#ff0000"}}},
{"data":{"name":"px"},"mark":{"type":"point","shape":"M-1,-0.28H1V0.28H-1Z","size":1849,"filled":true,"color":"#000000","opacity":1},
 "encoding":{"x":{"field":"t","type":"temporal","title":null,"axis":null},"y":{"field":"v","type":"quantitative","title":null}}},
{"data":{"name":"px"},"mark":{"type":"text","align":"center","baseline":"middle","fontSize":10,"font":"Liberation Sans","color":"#ffffff"},
 "encoding":{"x":{"field":"t","type":"temporal","title":null,"axis":null},"y":{"field":"v","type":"quantitative","title":null},"text":{"field":"txt"}}}
]
},
{
"width":886,"height":204,
"title":{"text":"MACD-2 (50,150,25) -65.2829 0.0000 88.7737 110.5347","anchor":"start","frame":"group","orient":"top","offset":-11.5,"dx":5,"font":"Liberation Sans","fontSize":9.5,"fontWeight":"normal","color":"#000000"},
"layer":[
{"data":{"name":"c"},"transform":[{"window":[{"op":"lag","field":"m","as":"pm"}],"sort":[{"field":"t","order":"ascending"}]}],
 "mark":{"type":"bar","width":3},
 "encoding":{
  "x":{"field":"t","type":"temporal","title":null,"scale":{"nice":false,"padding":0,"domain":[{"year":2019,"month":1,"date":31,"hours":1,"minutes":30,"utc":true},{"year":2019,"month":3,"date":8,"hours":23,"minutes":30,"utc":true}]},
   "axis":{"values":[{"year":2019,"month":1,"date":31,"hours":4,"utc":true},{"year":2019,"month":2,"date":2,"hours":20,"utc":true},{"year":2019,"month":2,"date":5,"hours":12,"utc":true},{"year":2019,"month":2,"date":8,"hours":4,"utc":true},{"year":2019,"month":2,"date":10,"hours":20,"utc":true},{"year":2019,"month":2,"date":13,"hours":12,"utc":true},{"year":2019,"month":2,"date":16,"hours":4,"utc":true},{"year":2019,"month":2,"date":18,"hours":20,"utc":true},{"year":2019,"month":2,"date":21,"hours":12,"utc":true},{"year":2019,"month":2,"date":24,"hours":4,"utc":true},{"year":2019,"month":2,"date":26,"hours":20,"utc":true}],
   "tickCount":30,
   "labelExpr":"utcFormat(datum.value, '%d%H') == '3104' ? '31 Jan 2019' : utcFormat(datum.value, '%-d %b %H:%M')",
   "labelAlign":"left","labelPadding":2,"tickSize":3,"domain":false,"grid":false,"labelFont":"Liberation Sans","labelFontSize":9.5,"labelColor":"#000000","tickColor":"#000000","labelOverlap":false,"labelFlush":false,"labelBound":false,"title":null}},
  "y":{"field":"m","type":"quantitative","title":null,"scale":{"domain":[-127.9358,187.9538],"nice":false,"zero":false,"padding":0},
   "axis":{"orient":"right","values":[187.9538,0,-127.9358],"labelExpr":"datum.value == 0 ? '0.00' : format(datum.value, '.4f')","domain":false,"grid":false,"tickSize":2,"tickColor":"#000000","labelColor":"#000000","labelFont":"Liberation Sans","labelFontSize":8.5,"labelPadding":2,"title":null,"labelFlush":true,"labelOverlap":false}},
  "y2":{"datum":0},
  "color":{"condition":{"test":"datum.pm == null || datum.m >= datum.pm","value":"#32cd32"},"value":"#ff0000"}}},
{"data":{"name":"yel"},"mark":{"type":"line","color":"#ffd700","strokeWidth":1},
 "encoding":{"x":{"field":"t","type":"temporal","title":null},"y":{"field":"v","type":"quantitative","title":null}}},
{"data":{"name":"blk"},"mark":{"type":"line","color":"#000000","strokeWidth":1},
 "encoding":{"x":{"field":"t","type":"temporal","title":null},"y":{"field":"v","type":"quantitative","title":null}}},
{"data":{"name":"mk"},"mark":{"type":"line","color":"#000000","strokeWidth":1,"strokeDash":[10,6]},
 "encoding":{"x":{"field":"t","type":"temporal","title":null},"y":{"field":"v","type":"quantitative","title":null}}}
]
}
]
}
